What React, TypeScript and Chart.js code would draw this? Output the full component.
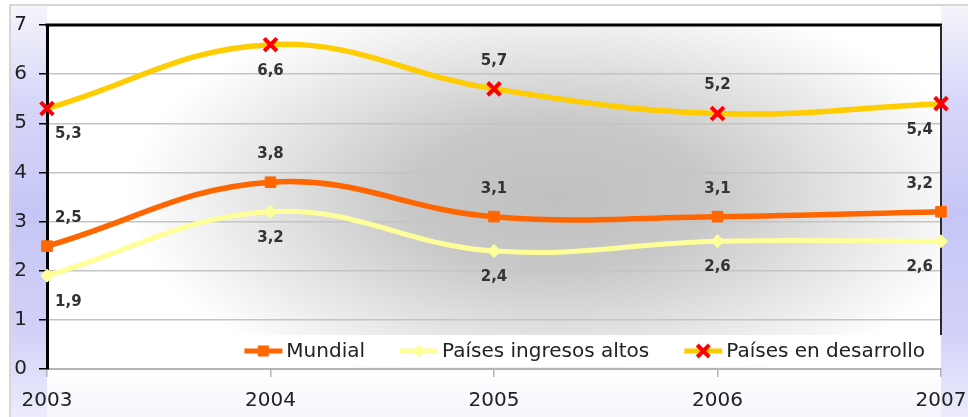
import React, { useEffect, useRef } from 'react';
import { Chart, registerables } from 'chart.js';

Chart.register(...registerables);

const years = ['2003', '2004', '2005', '2006', '2007'];
const mundial = [2.5, 3.8, 3.1, 3.1, 3.2];
const ingresosAltos = [1.9, 3.2, 2.4, 2.6, 2.6];
const enDesarrollo = [5.3, 6.6, 5.7, 5.2, 5.4];
const seriesNames = ['Mundial', 'Países ingresos altos', 'Países en desarrollo'];
const yMin = 0;
const yMax = 7;

// label placement per series (style, not data)
const labelSide: string[][] = [
  ['above', 'above', 'above', 'above', 'above'],
  ['below', 'below', 'below', 'below', 'below'],
  ['below', 'below', 'above', 'above', 'below'],
];

const FONT = '"DejaVu Sans", Verdana, sans-serif';

const fmt = (v: number) => v.toFixed(1).replace('.', ',');

function drawMarker(ctx: CanvasRenderingContext2D, kind: string, x: number, y: number, color: string) {
  ctx.save();
  if (kind === 'rect') {
    ctx.fillStyle = color;
    ctx.fillRect(x - 5.5, y - 5.5, 11, 11);
  } else if (kind === 'rectRot') {
    ctx.fillStyle = color;
    ctx.beginPath();
    ctx.moveTo(x - 6.5, y);
    ctx.lineTo(x, y - 6.5);
    ctx.lineTo(x + 6.5, y);
    ctx.lineTo(x, y + 6.5);
    ctx.closePath();
    ctx.fill();
  } else {
    ctx.strokeStyle = color;
    ctx.lineWidth = 4;
    const d = 6;
    ctx.beginPath();
    ctx.moveTo(x - d, y - d);
    ctx.lineTo(x + d, y + d);
    ctx.moveTo(x + d, y - d);
    ctx.lineTo(x - d, y + d);
    ctx.stroke();
  }
  ctx.restore();
}

const legendStyle = [
  { line: '#ff6600', marker: 'rect', markerColor: '#ff6600' },
  { line: '#ffff99', marker: 'rectRot', markerColor: '#ffff99' },
  { line: '#ffcc00', marker: 'crossRot', markerColor: '#ff0000' },
];

function legendLayout(ctx: CanvasRenderingContext2D) {
  ctx.save();
  ctx.font = `20px ${FONT}`;
  const widths = seriesNames.map((n) => ctx.measureText(n).width);
  ctx.restore();
  const sample = 38, gapText = 4, gapItem = 35, padL = 5, padR = 16;
  let total = padL + padR;
  widths.forEach((w, i) => {
    total += sample + gapText + w + (i > 0 ? gapItem : 0);
  });
  return { widths, sample, gapText, gapItem, padL, total };
}

const backgroundPlugin = {
  id: 'bgPlugin',
  beforeDraw(chart: any) {
    const { ctx, chartArea: a, width, height } = chart;
    ctx.save();
    ctx.fillStyle = '#ffffff';
    ctx.fillRect(0, 0, width, height);

    // lavender side strips
    const g = ctx.createLinearGradient(0, 5, 0, height);
    g.addColorStop(0, '#f5f5fa');
    g.addColorStop(0.22, '#d8d8fa');
    g.addColorStop(0.5, '#c6c6f6');
    g.addColorStop(0.78, '#d0d0f8');
    g.addColorStop(1, '#ececfc');
    ctx.fillStyle = g;
    ctx.fillRect(10, 5, a.left - 10, height - 5);
    ctx.fillRect(a.right, 5, width - a.right, height - 5);

    // white strip below plot
    const gb = ctx.createLinearGradient(0, a.bottom, 0, height);
    gb.addColorStop(0, '#ffffff');
    gb.addColorStop(1, '#f6f6fd');
    ctx.fillStyle = gb;
    ctx.fillRect(a.left, a.bottom, a.right - a.left, height - a.bottom);

    // frame
    ctx.strokeStyle = '#d6d6d6';
    ctx.lineWidth = 2;
    ctx.beginPath();
    ctx.moveTo(10, height);
    ctx.lineTo(10, 5);
    ctx.lineTo(width, 5);
    ctx.stroke();

    // plot area radial gradient
    ctx.save();
    ctx.beginPath();
    ctx.rect(a.left, a.top, a.right - a.left, a.bottom - a.top);
    ctx.clip();
    ctx.fillStyle = '#ffffff';
    ctx.fillRect(a.left, a.top, a.right - a.left, a.bottom - a.top);
    const cx = a.left + (a.right - a.left) * 0.57;
    const cy = a.top + (a.bottom - a.top) * 0.5;
    const rx = 430;
    const ry = 210;
    ctx.translate(cx, cy);
    ctx.scale(1, ry / rx);
    const rg = ctx.createRadialGradient(0, 0, 0, 0, 0, rx);
    rg.addColorStop(0, '#c0c0c0');
    rg.addColorStop(0.35, '#c8c8c8');
    rg.addColorStop(0.7, '#e6e6e6');
    rg.addColorStop(1, '#ffffff');
    ctx.fillStyle = rg;
    ctx.fillRect(-rx * 2, -rx * 2, rx * 4, rx * 4);
    ctx.restore();

    // legend box
    const L = legendLayout(ctx);
    ctx.fillStyle = '#ffffff';
    ctx.fillRect(a.right - L.total, a.bottom - 34, L.total, 32);
    ctx.restore();
  },
  beforeDatasetsDraw(chart: any) {
    const { ctx, chartArea: a } = chart;
    ctx.save();
    ctx.strokeStyle = '#000000';
    ctx.lineWidth = 3;
    ctx.beginPath();
    ctx.moveTo(a.left - 1.5, a.top);
    ctx.lineTo(a.right + 1, a.top);
    ctx.stroke();
    ctx.strokeStyle = '#2a2a2a';
    ctx.lineWidth = 2;
    ctx.beginPath();
    ctx.moveTo(a.right, a.top);
    ctx.lineTo(a.right, a.bottom - 34);
    ctx.stroke();
    ctx.restore();
  },
  afterDatasetsDraw(chart: any) {
    const { ctx, chartArea: a } = chart;
    ctx.save();
    // data labels
    ctx.font = `bold 15px ${FONT}`;
    ctx.fillStyle = '#333333';
    ctx.textBaseline = 'middle';
    chart.data.datasets.forEach((ds: any, di: number) => {
      const meta = chart.getDatasetMeta(di);
      meta.data.forEach((pt: any, i: number) => {
        const side = labelSide[di][i];
        const y = side === 'above' ? pt.y - 28 : pt.y + 26;
        let x = pt.x;
        if (i === 0) {
          ctx.textAlign = 'left';
          x = pt.x + 8;
        } else if (i === meta.data.length - 1) {
          ctx.textAlign = 'right';
          x = pt.x - 8;
        } else {
          ctx.textAlign = 'center';
        }
        ctx.fillText(fmt(ds.data[i]), x, y);
      });
    });

    // legend
    const L = legendLayout(ctx);
    const cy = a.bottom - 18;
    let x = a.right - L.total + L.padL;
    ctx.font = `20px ${FONT}`;
    ctx.textAlign = 'left';
    ctx.textBaseline = 'middle';
    seriesNames.forEach((name, i) => {
      if (i > 0) x += L.gapItem;
      const st = legendStyle[i];
      ctx.strokeStyle = st.line;
      ctx.lineWidth = 5;
      ctx.beginPath();
      ctx.moveTo(x, cy);
      ctx.lineTo(x + L.sample, cy);
      ctx.stroke();
      drawMarker(ctx, st.marker, x + L.sample / 2, cy, st.markerColor);
      x += L.sample + L.gapText;
      ctx.fillStyle = '#222222';
      ctx.fillText(name, x, cy + 1);
      x += L.widths[i];
    });
    ctx.restore();
  },
};

export default function App() {
  const ref = useRef<HTMLCanvasElement | null>(null);

  useEffect(() => {
    document.body.style.margin = '0';
    const canvas = ref.current;
    if (!canvas) return;
    const chart = new Chart(canvas, {
      type: 'line',
      data: {
        labels: years,
        datasets: [
          {
            label: seriesNames[0],
            data: mundial,
            borderColor: '#ff6600',
            backgroundColor: '#ff6600',
            borderWidth: 5.5,
            pointStyle: 'rect',
            pointRadius: 7.5,
            pointBorderWidth: 1,
            pointBorderColor: '#ff6600',
            pointBackgroundColor: '#ff6600',
            tension: 0.4,
            clip: false,
          },
          {
            label: seriesNames[1],
            data: ingresosAltos,
            borderColor: '#ffff99',
            backgroundColor: '#ffff99',
            borderWidth: 5,
            pointStyle: 'rectRot',
            pointRadius: 6.5,
            pointBorderWidth: 1,
            pointBorderColor: '#ffff99',
            pointBackgroundColor: '#ffff99',
            tension: 0.4,
            clip: false,
          },
          {
            label: seriesNames[2],
            data: enDesarrollo,
            borderColor: '#ffcc00',
            backgroundColor: '#ffcc00',
            borderWidth: 5.5,
            pointStyle: 'crossRot',
            pointRadius: 9,
            pointBorderWidth: 4,
            pointBorderColor: '#ff0000',
            pointBackgroundColor: '#ff0000',
            tension: 0.4,
            clip: false,
          },
        ],
      },
      options: {
        responsive: false,
        animation: false,
        layout: { padding: { top: 25, right: 27, left: 0, bottom: 0 } },
        plugins: {
          legend: { display: false },
          tooltip: { enabled: false },
        },
        scales: {
          x: {
            type: 'category',
            offset: false,
            grid: {
              drawOnChartArea: false,
              drawTicks: true,
              tickLength: 8,
              tickColor: '#b4b4b4',
              lineWidth: 1.5,
            },
            border: { color: '#b4b4b4', width: 2 },
            ticks: {
              color: '#222222',
              font: { family: FONT, size: 20 },
              padding: 12,
              maxRotation: 0,
              autoSkip: false,
            },
            afterFit: (s: any) => {
              s.height = 48;
              s.paddingLeft = 0;
              s.paddingRight = 0;
            },
          },
          y: {
            min: yMin,
            max: yMax,
            grid: {
              color: '#c4c4c4',
              lineWidth: 1.5,
              drawTicks: true,
              tickLength: 8,
              tickColor: '#000000',
            },
            border: { color: '#000000', width: 3 },
            ticks: {
              stepSize: 1,
              color: '#222222',
              font: { family: FONT, size: 20 },
              padding: 12,
            },
            afterFit: (s: any) => {
              s.width = 47;
              s.paddingTop = 0;
              s.paddingBottom = 0;
            },
          },
        },
      },
      plugins: [backgroundPlugin],
    });
    return () => chart.destroy();
  }, []);

  return (
    <div style={{ width: 968, height: 417 }}>
      <canvas ref={ref} width={968} height={417} style={{ display: 'block' }} />
    </div>
  );
}
